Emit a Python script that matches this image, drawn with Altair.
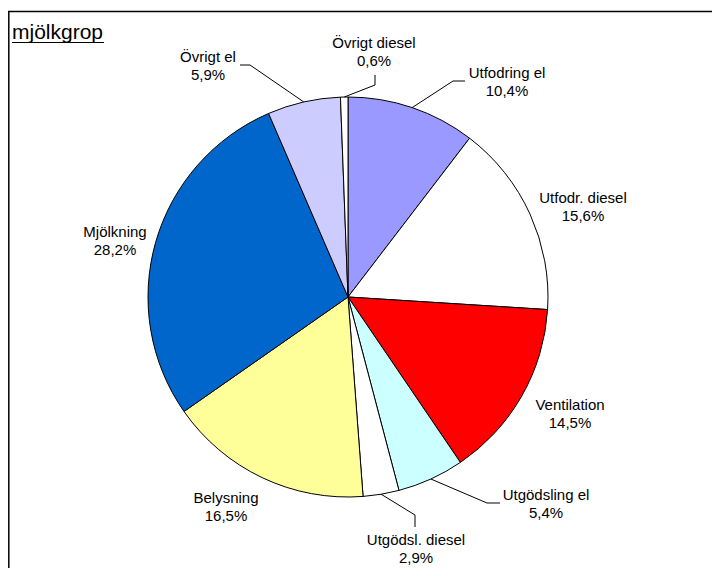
import math
import altair as alt
import pandas as pd

# ---- data ----
categories = ["Utfodring el", "Utfodr. diesel", "Ventilation", "Utgödsling el",
              "Utgödsl. diesel", "Belysning", "Mjölkning", "Övrigt el", "Övrigt diesel"]
values = [10.4, 15.6, 14.5, 5.4, 2.9, 16.5, 28.2, 5.9, 0.6]
colors = ["#9999FF", "#FFFFFF", "#FF0000", "#CCFFFF", "#FFFFFF",
          "#FFFF99", "#0066CC", "#CCCCFF", "#FFFFFF"]
title_text = "mjölkgrop"

# ---- layout (in units of pie radius, relative to the pie centre) ----
label_pos = {
    "Utfodring el": (0.795, 1.075),
    "Utfodr. diesel": (1.175, 0.45),
    "Ventilation": (1.11, -0.585),
    "Utgödsling el": (0.99, -1.035),
    "Utgödsl. diesel": (0.34, -1.26),
    "Belysning": (-0.61, -1.05),
    "Mjölkning": (-1.165, 0.28),
    "Övrigt el": (-0.70, 1.155),
    "Övrigt diesel": (0.13, 1.225),
}
LINE_SHIFT = 0.047  # first line sits half a line above the block centre
# leader: (elbow, end)
leaders = {
    "Övrigt el": ((-0.49, 1.16), (-0.54, 1.16)),
    "Övrigt diesel": ((0.135, 1.06), (0.135, 1.11)),
    "Utfodring el": ((0.525, 1.08), (0.585, 1.08)),
    "Utgödsling el": ((0.695, -1.03), (0.76, -1.03)),
    "Utgödsl. diesel": ((0.335, -1.09), (0.335, -1.15)),
}

W, H = 704, 560
R = 200
CX, CY = 340, 289
xs = alt.Scale(domain=[-CX / R, (W - CX) / R], nice=False, zero=False)
ys = alt.Scale(domain=[-(H - CY) / R, CY / R], nice=False, zero=False)

def fmt(v):
    return f"{v:.1f}".replace(".", ",") + "%"

df = pd.DataFrame({"cat": categories, "value": values, "idx": range(len(values))})
df["cx"] = 0.0
df["cy"] = 0.0
total = sum(values)
cum = df["value"].cumsum()
df["mid"] = (cum - df["value"] / 2) / total * 2 * math.pi

lab = pd.DataFrame({
    "cat": categories,
    "text": [[c, fmt(v)] for c, v in zip(categories, values)],
    "x": [label_pos[c][0] for c in categories],
    "y": [label_pos[c][1] + LINE_SHIFT for c in categories],
})

rows = []
for c, (elbow, end) in leaders.items():
    m = float(df.loc[df["cat"] == c, "mid"].iloc[0])
    rows.append({"cat": c, "o": 0, "x": math.sin(m), "y": math.cos(m)})
    rows.append({"cat": c, "o": 1, "x": elbow[0], "y": elbow[1]})
    rows.append({"cat": c, "o": 2, "x": end[0], "y": end[1]})
lead = pd.DataFrame(rows)

pie = alt.Chart(df).mark_arc(radius=R, stroke="black", strokeWidth=1).encode(
    theta=alt.Theta("value:Q", stack=True),
    order=alt.Order("idx:Q"),
    color=alt.Color("cat:N", scale=alt.Scale(domain=categories, range=colors), legend=None),
    x=alt.X("cx:Q", scale=xs, axis=None),
    y=alt.Y("cy:Q", scale=ys, axis=None),
)

lines = alt.Chart(lead).mark_line(color="black", strokeWidth=1).encode(
    x=alt.X("x:Q", scale=xs, axis=None),
    y=alt.Y("y:Q", scale=ys, axis=None),
    detail="cat:N",
    order="o:Q",
)

texts = alt.Chart(lab).mark_text(
    font="Liberation Sans", fontSize=15, lineHeight=18, align="center",
    baseline="middle", color="black",
).encode(
    x=alt.X("x:Q", scale=xs, axis=None),
    y=alt.Y("y:Q", scale=ys, axis=None),
    text="text",
)

title_df = pd.DataFrame({"t": [title_text]})
title = alt.Chart(title_df).mark_text(
    font="Liberation Sans", fontSize=21, align="left", baseline="alphabetic", color="black",
).encode(x=alt.value(4), y=alt.value(31), text="t:N")
underline = alt.Chart(title_df).mark_rule(color="black", strokeWidth=1.2).encode(
    x=alt.value(4), x2=alt.value(96), y=alt.value(34.5)
)

frame_left = alt.Chart(title_df).mark_rule(color="black", strokeWidth=1.5).encode(
    x=alt.value(0.8), y=alt.value(3), y2=alt.value(H)
)
frame_top = alt.Chart(title_df).mark_rule(color="black", strokeWidth=1.5).encode(
    x=alt.value(0), x2=alt.value(W), y=alt.value(3.5)
)

chart = alt.layer(frame_left, frame_top, pie, lines, texts, title, underline).properties(
    width=W, height=H, autosize=alt.AutoSizeParams(type="none"), padding=0,
).configure_view(stroke=None)

chart.save("out.html", embed_options={"renderer": "svg", "actions": False})
